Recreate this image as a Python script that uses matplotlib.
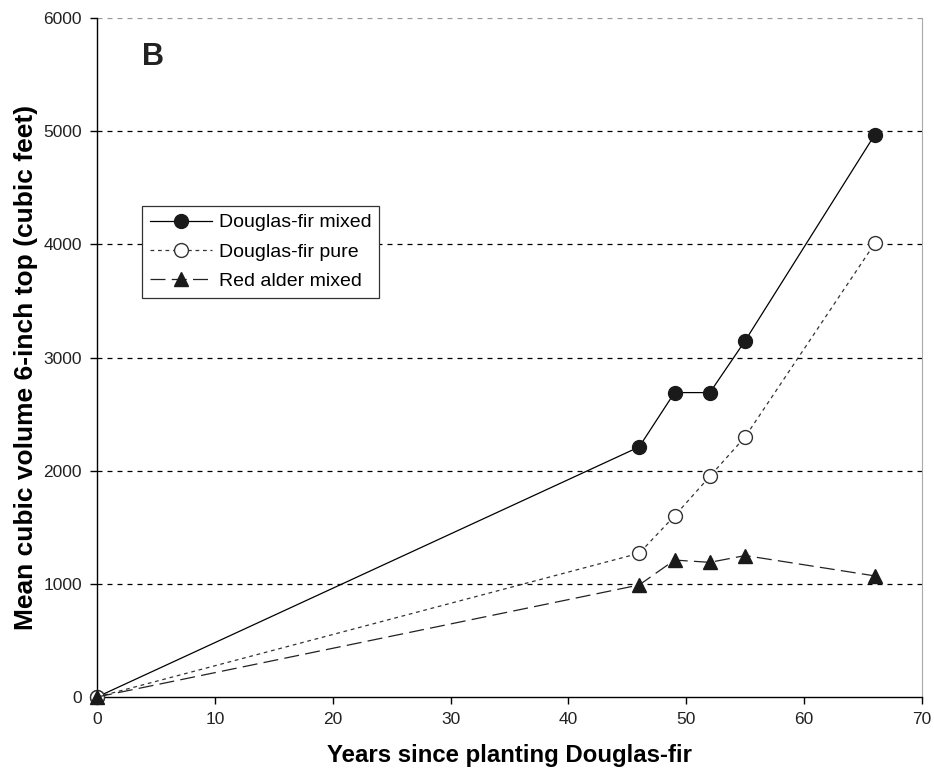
import matplotlib
matplotlib.use("Agg")
import matplotlib.pyplot as plt

plt.rcParams['font.family'] = ['Liberation Sans', 'DejaVu Sans']

years_mixed = [0, 46, 49, 52, 55, 66]
df_mixed = [0, 2210, 2690, 2690, 3150, 4970]
df_pure = [0, 1270, 1600, 1950, 2300, 4010]
ra_mixed = [0, 990, 1210, 1190, 1250, 1070]
x_ticks = [0, 10, 20, 30, 40, 50, 60, 70]
y_ticks = [0, 1000, 2000, 3000, 4000, 5000, 6000]

fig = plt.figure(figsize=(9.34, 7.7), dpi=100)
ax = fig.add_axes([0.1039, 0.0948, 0.8833, 0.8818])

for yv in y_ticks[1:]:
    ax.axhline(yv, color='black' if yv < 6000 else '#999999', lw=0.9,
               ls=(0, (4, 4)), zorder=1)

ax.plot(years_mixed, df_mixed, color='black', lw=0.9, marker='o', ms=10,
        mfc='#1a1a1a', mec='#1a1a1a', label='Douglas-fir mixed', zorder=3, clip_on=False)
ax.plot(years_mixed, df_pure, color='#333333', lw=0.9, ls=(0, (3, 3)), marker='o', ms=10,
        mfc='white', mec='#333333', mew=1.0, label='Douglas-fir pure', zorder=3, clip_on=False)
ax.plot(years_mixed, ra_mixed, color='#222222', lw=0.9, ls=(0, (12, 5)), marker='^', ms=10,
        mfc='#1a1a1a', mec='#1a1a1a', label='Red alder mixed', zorder=4, clip_on=False)

ax.set_xlim(0, 70)
ax.set_ylim(0, 6000)
ax.set_xticks(x_ticks)
ax.set_yticks(y_ticks)
ax.tick_params(direction='out', length=5, width=1, labelsize=12.5, pad=6)
ax.spines['top'].set_visible(False)
ax.spines['right'].set_color('#aaaaaa')
ax.spines['left'].set_linewidth(1)
ax.spines['bottom'].set_linewidth(1)
for lbl in ax.get_xticklabels() + ax.get_yticklabels():
    lbl.set_color('#222222')

ax.set_xlabel('Years since planting Douglas-fir', fontsize=17.3, fontweight='bold', labelpad=12)
ax.set_ylabel('Mean cubic volume 6-inch top (cubic feet)', fontsize=19, fontweight='bold')
ax.yaxis.set_label_coords(-0.072, 0.485)

ax.text(4.75, 5655, 'B', fontsize=22, fontweight='bold', ha='center', va='center', color='#222222')

leg = ax.legend(loc='upper left', bbox_to_anchor=(0.0545, 0.723), fontsize=14, frameon=True,
                fancybox=False, edgecolor='#333333', framealpha=1, handlelength=3.2,
                borderpad=0.4, labelspacing=0.6, handletextpad=0.35, borderaxespad=0)
leg.get_frame().set_linewidth(0.9)

fig.savefig('out.png', dpi=100)
